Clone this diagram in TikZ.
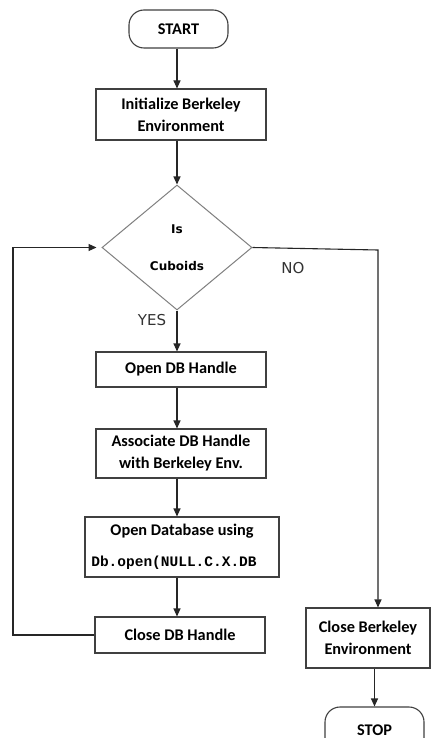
\documentclass[tikz,border=0pt]{standalone}
\usepackage{fontspec}
\setmainfont{Carlito}
\newfontfamily\dejavu{DejaVu Sans}
\newfontfamily\monof{Liberation Mono}
\usetikzlibrary{shapes.geometric,arrows.meta}
\begin{document}
\begin{tikzpicture}[x=1pt,y=-1pt,
  box/.style={draw=black!75, line width=1.1pt, rectangle, inner sep=0pt, align=center,
    font=\bfseries\fontsize{16.3}{22}\selectfont},
  term/.style={box, rounded corners=15pt},
  arr/.style={draw=black!85, line width=1.1pt, -{Triangle[length=8pt,width=7pt]}},
  lbl/.style={font=\dejavu\fontsize{15}{18}\selectfont, text=black!80, inner sep=0pt}]
\useasboundingbox (0,0) rectangle (432,738);
\fill[white] (0,0) rectangle (432,738);

\node[term, minimum width=99pt, minimum height=38pt] (start) at (178.5,29) {START};
\node[box, minimum width=170pt, minimum height=51pt] (init) at (181,114.5) {Initialize Berkeley\\Environment};
\node[diamond, draw=black!50, line width=1pt, minimum width=150pt, minimum height=125pt, inner sep=0pt,
  align=center, font=\dejavu\bfseries\fontsize{12}{37}\selectfont] (dec) at (177,247.5) {Is\\Cuboids};
\node[box, minimum width=170pt, minimum height=35pt] (opendb) at (181,369.5) {Open DB Handle};
\node[box, minimum width=170pt, minimum height=49pt] (assoc) at (181,453.5) {Associate DB Handle\\with Berkeley Env.};
\node[box, minimum width=194pt, minimum height=60pt] (opendbase) at (182,547)
  {Open Database using\\[9pt]{\monof\bfseries\fontsize{14.5}{16}\selectfont Db.open(NULL.C.X.DB}\hspace*{16pt}};
\node[box, minimum width=170pt, minimum height=36pt] (closedb) at (180,635) {Close DB Handle};
\node[box, minimum width=124pt, minimum height=60pt] (closeb) at (368,638) {Close Berkeley\\Environment};
\node[term, minimum width=99pt, minimum height=46pt] (stop) at (374.5,730) {STOP};

\node[lbl] (yes) at (152,320) {YES};
\node[lbl] (no) at (293,268) {NO};

\coordinate (ncorner) at (378,250);
\coordinate (loopx) at (13,0);

\draw[arr] (dec.north |- start.south) -- (dec.north |- init.north);
\draw[arr] (dec.north |- init.south) -- (dec.north);
\draw[arr] (dec.south) -- (dec.south |- opendb.north);
\draw[arr] (dec.south |- opendb.south) -- (dec.south |- assoc.north);
\draw[arr] (dec.south |- assoc.south) -- (dec.south |- opendbase.north);
\draw[arr] (dec.south |- opendbase.south) -- (dec.south |- closedb.north);
\draw[arr, shorten >=5pt] (closedb.west) -- (closedb.west -| loopx) -- (dec.west -| loopx) -- (dec.west);
\draw[arr] (dec.east) -- (ncorner) -- (ncorner |- closeb.north);
\draw[arr] (stop.north |- closeb.south) -- (stop.north);
\end{tikzpicture}
\end{document}
